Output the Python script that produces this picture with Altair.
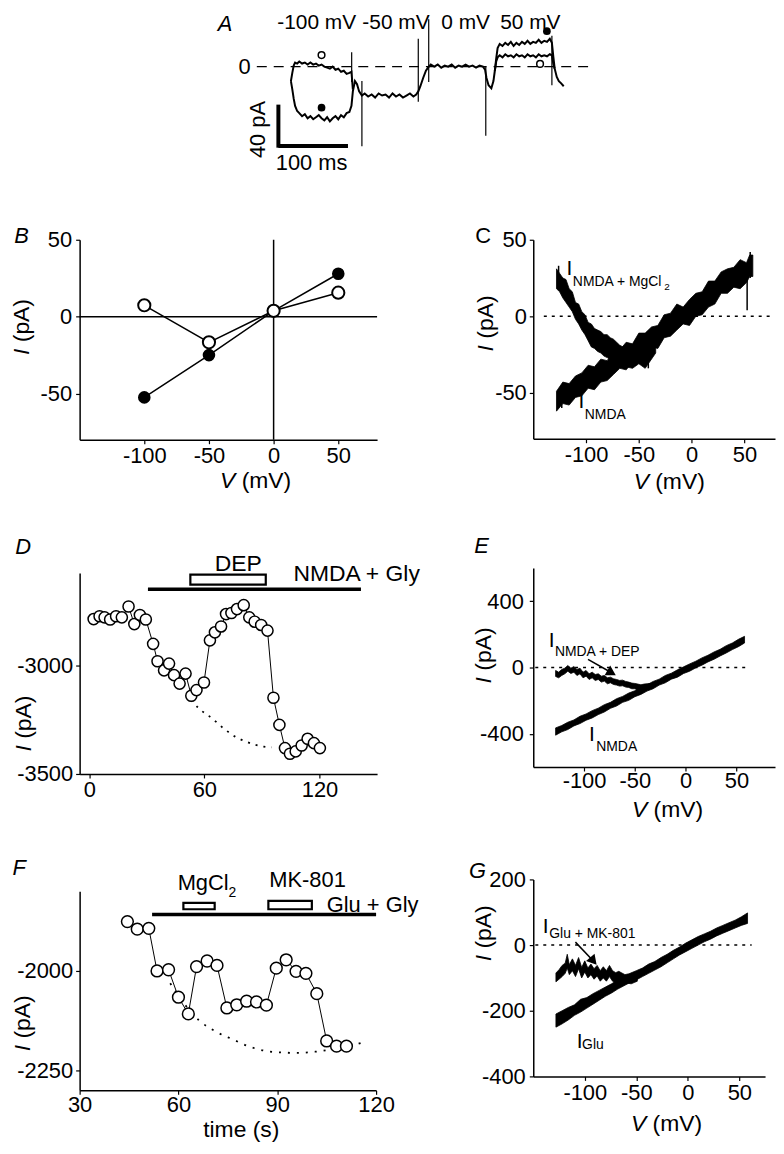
import altair as alt
import pandas as pd

FONT = "Liberation Sans"

# ---------------- DATA ----------------
# Panel A: current traces (time ms, current pA)
a_ctrl_t = [66, 68, 70, 72, 75, 78, 82, 86, 90, 94, 98, 102, 106, 110, 114, 118, 122, 126, 130, 134, 138, 142, 146, 150, 153,
            155, 158, 161, 164, 168, 172, 177, 182, 187, 192, 197, 202, 207, 212, 217, 222, 227, 232, 237, 242, 246, 249,
            252, 256, 260, 263, 267, 272, 277, 282, 287, 292, 297, 302, 307, 312, 317, 322, 327, 332, 337, 342, 345,
            347, 350, 354, 357, 359, 361, 363, 366, 370, 374, 378, 382, 386, 390, 394, 398, 402, 406, 410, 414, 418,
            422, 426, 430, 434, 438, 441, 443, 445, 448, 451, 454, 458]
a_ctrl_i = [-14, -22, -31, -38, -43, -45, -48, -46, -50, -48, -51, -49, -47, -50, -52, -49, -53, -50, -48, -51, -47, -49, -45, -44, -38,
            -24, -14, -17, -24, -28, -26, -29, -27, -30, -26, -28, -27, -30, -26, -29, -27, -30, -28, -26, -29, -27, -24,
            -19, -11, -4, -1, 2, 0, 2, -1, 1, 0, 2, -1, 1, 0, 2, 0, 1, -1, 1, 0, -3,
            -11, -18, -21, -14, -4, 8, 18, 22, 20, 23, 21, 24, 20, 23, 21, 24, 22, 25, 22, 24, 23,
            26, 23, 25, 24, 27, 23, 10, -2, -10, -14, -16, -19]
a_mg_t1 = [66, 68, 70, 72, 75, 78, 82, 86, 90, 94, 98, 102, 106, 110, 114, 118, 122, 126, 130, 134, 138, 142, 146, 150, 153, 155]
a_mg_i1 = [-14, -6, 1, 4, 3, 5, 3, 4, 2, 4, 2, 3, 1, 2, 0, -1, -2, 0, -3, -2, -5, -4, -7, -6, -5, -22]
a_mg_t2 = [359, 361, 363, 366, 370, 374, 378, 382, 386, 390, 394, 398, 402, 406, 410, 414, 418, 422, 426, 430, 434, 438, 441, 443, 445]
a_mg_i2 = [-4, 5, 9, 11, 9, 12, 10, 11, 9, 12, 10, 11, 9, 12, 10, 11, 9, 12, 10, 11, 10, 12, 11, 3, -2]
a_spike_t = [153.3, 168, 249, 264, 346, 441]
a_spike_lo = [-15, -77, -34, -15, -67, -18]
a_spike_hi = [14, -14, 27, 46, 0, 30]
a_mark_t = [110, 110, 433.8, 424]
a_mark_i = [11.2, -39.8, 34.3, 2.6]
a_mark_fill = ["open", "filled", "filled", "open"]
a_steps = ["-100 mV", "-50 mV", "0 mV", "50 mV"]
a_steps_t = [103, 217, 317, 410]

# Panel B: I-V points
b_v = [-100, -50, 0, 50]
b_ctrl = [-52.5, -25, 3.8, 27.9]
b_mg = [7.4, -16.7, 3.8, 15.6]

# Panel C: ramp I-V bands (V, lower edge, upper edge)
c_n_v = [-128, -122, -116, -110, -104, -98, -92, -86, -80, -74, -68, -62, -56, -50, -44, -38, -32, -26, -20, -14, -8, -2,
         4, 10, 16, 22, 28, 34, 40, 46, 52, 55, 58]
c_n_hi = [-49, -43, -44, -39, -37, -32, -33, -28, -29, -23, -22, -17, -18, -11, -11, -7, -6, 1, 2, 8, 6, 11,
          15, 16, 23, 23, 29, 31, 32, 37, 35, 40, 40]
c_n_lo = [-62, -57, -58, -53, -52, -47, -48, -43, -42, -38, -34, -35, -30, -29, -25, -20, -21, -14, -13, -9, -5, -6,
          0, 1, 6, 8, 15, 15, 19, 18, 22, 26, 26]
c_m_v = [-128, -125, -122, -119, -116, -113, -110, -107, -104, -101, -98, -95, -92, -89, -86, -83, -80, -77, -74, -71,
         -68, -65, -62, -56, -50, -44, -40, -34]
c_m_hi = [31, 28, 25, 24, 18, 16, 9, 8, 3, 1, -4, -5, -8, -9, -10, -12, -12, -14, -15, -17, -19, -20, -21, -20, -18, -17, -16, -12]
c_m_lo = [18, 16, 12, 9, 6, 3, -2, -5, -9, -12, -16, -20, -21, -23, -24, -26, -27, -28, -29, -31, -32, -33, -33, -34, -31, -34, -30, -24]
c_spike_v = [52.6, -126, -41, -123, 55.5]
c_spike_lo = [4, 22, -34, -60, 25]
c_spike_hi = [30, 33, -22, -50, 42]

# Panel D: time course with DEP
d_t = [2.3, 5.4, 8, 10.9, 14, 17, 20.5, 23.5, 26.4, 29.5, 33.3, 35.6, 39, 41.6, 44.2, 47.1, 50.2, 53.2, 55.9, 59.8,
       62.9, 65.5, 68.7, 71.3, 74.1, 77, 80.5, 83.4, 86.2, 89.6, 92.9, 96, 99.1, 102, 104.6, 107.6, 110.7, 113.8, 117.1, 120.2]
d_i = [-2787, -2774, -2779, -2789, -2774, -2779, -2729, -2810, -2768, -2789, -2901, -2981, -3023, -2992, -3045, -3084,
       -3038, -3140, -3114, -3079, -2885, -2848, -2821, -2764, -2759, -2741, -2723, -2779, -2799, -2814, -2840, -3149,
       -3274, -3381, -3407, -3396, -3369, -3338, -3358, -3381]
d_fit_t = [53, 58, 64, 70, 76, 82, 86.5, 91, 95]
d_fit_i = [-3160, -3205, -3244, -3290, -3328, -3352, -3366, -3374, -3378]

# Panel E
e_n_v = [-128, -122, -116, -110, -104, -98, -92, -86, -80, -74, -68, -62, -56, -50, -44, -38, -32, -26, -20, -14, -8, -2,
         4, 10, 16, 22, 28, 34, 40, 46, 52, 58]
e_n_hi = [-364, -350, -330, -316, -294, -280, -260, -245, -224, -210, -188, -174, -154, -140, -118, -104, -84, -70, -48, -34,
          -14, 4, 22, 38, 58, 74, 94, 110, 132, 148, 170, 188]
e_n_lo = [-408, -388, -374, -352, -338, -318, -304, -284, -268, -246, -232, -210, -198, -176, -162, -142, -128, -106, -92, -70,
          -58, -36, -22, -2, 14, 34, 50, 70, 88, 108, 126, 148]
e_d_v = [-128, -125, -122, -119, -116, -113, -110, -107, -104, -101, -98, -95, -92, -89, -86, -83, -80, -77, -74, -71,
         -68, -65, -62, -59, -56, -53, -50, -47, -44, -41, -38, -35]
e_d_hi = [-18, -28, -12, -4, 12, -4, 6, -12, -4, -28, -18, -38, -28, -42, -38, -52, -48, -62, -58, -68, -72, -78, -76, -84,
          -88, -94, -96, -100, -104, -100, -98, -96]
e_d_lo = [-54, -62, -48, -38, -22, -36, -28, -48, -38, -62, -52, -72, -62, -78, -72, -88, -82, -98, -92, -102, -106, -112,
          -110, -118, -120, -128, -128, -136, -138, -136, -132, -128]

# Panel F
f_t = [44.5, 47.5, 51, 53.5, 57, 60, 63, 65.5, 68.7, 71.7, 74.7, 77.7, 80.7, 83.7, 86.7, 89.7, 92.7, 95.7, 98.7, 102, 105, 108, 111]
f_i = [-1876, -1895, -1893, -2000, -1997, -2066, -2108, -1989, -1975, -1986, -2093, -2085, -2076, -2078, -2086, -1993,
       -1972, -2001, -2006, -2057, -2176, -2189, -2189]
f_fit_t = [57.5, 62, 66.5, 71.5, 76.5, 81.5, 86.5, 91.5, 96.5, 101.5, 106.5, 111.5, 116.5]
f_fit_i = [-2031, -2085, -2126, -2153, -2172, -2190, -2201, -2205, -2206, -2203, -2197, -2190, -2178]

# Panel G
g_g_v = [-128, -122, -116, -110, -104, -98, -92, -86, -80, -74, -68, -62, -56, -50, -44, -38, -32, -26, -20, -14, -8, -2,
         4, 10, 16, 22, 28, 34, 40, 46, 52, 58]
g_g_hi = [-210, -200, -190, -182, -165, -160, -148, -138, -128, -118, -106, -96, -86, -78, -70, -58, -50, -38, -28, -16,
          -6, 6, 16, 26, 34, 42, 52, 60, 68, 76, 86, 98]
g_g_lo = [-250, -240, -228, -214, -204, -192, -180, -168, -156, -146, -134, -124, -114, -106, -96, -86, -76, -66, -54, -42,
          -30, -20, -10, 0, 10, 18, 28, 36, 44, 52, 60, 66]
g_m_v = [-128, -125, -122, -119, -117, -115, -112, -109, -106, -103, -100, -97, -94, -91, -88, -85, -82, -79, -76, -73,
         -70, -67, -64, -61, -58, -55, -52, -49]
g_m_hi = [-85, -75, -62, -55, -28, -60, -42, -62, -38, -68, -48, -70, -58, -72, -62, -78, -66, -78, -62, -78, -84, -80,
          -85, -90, -88, -90, -86, -82]
g_m_lo = [-112, -104, -96, -86, -70, -90, -78, -96, -72, -100, -82, -100, -90, -104, -94, -110, -100, -110, -96, -110,
          -114, -110, -114, -118, -116, -118, -114, -110]

ONE = pd.DataFrame({"k": [0]})


# ---------------- HELPERS ----------------
def axes_for(xdom, ydom, xt, yt, xpad, ypad, show=True):
    if show:
        xa = alt.Axis(values=xt, title=None, labelPadding=xpad, labelExpr="'' + datum.value")
        ya = alt.Axis(values=yt, title=None, labelPadding=ypad, labelExpr="'' + datum.value")
    else:
        xa = None
        ya = None

    def X(f):
        return alt.X(f, type="quantitative", scale=alt.Scale(domain=xdom, nice=False, zero=False), axis=xa)

    def Y(f):
        return alt.Y(f, type="quantitative", scale=alt.Scale(domain=ydom, nice=False, zero=False), axis=ya)
    return X, Y


def dtext(X, Y, x, y, text, size=22, italic=False, align="center", angle=0):
    df = pd.DataFrame({"x": [x], "y": [y], "t": [text]})
    kw = dict(font=FONT, fontSize=size, align=align, baseline="middle", color="black")
    if italic:
        kw["fontStyle"] = "italic"
    if angle:
        kw["angle"] = angle
    return alt.Chart(df).mark_text(**kw).encode(x=X("x"), y=Y("y"), text="t:N")


def ptext(px, py, text, size=23, italic=False, align="center", angle=0, dx=0):
    kw = dict(font=FONT, fontSize=size, align=align, baseline="middle", color="black")
    if italic:
        kw["fontStyle"] = "italic"
    if angle:
        kw["angle"] = angle
    if dx:
        kw["dx"] = dx
    return alt.Chart(ONE).mark_text(**kw).encode(x=alt.value(px), y=alt.value(py), text=alt.value(text))


def vtitle(px, py):
    return [ptext(px, py, "V", italic=True, align="left", dx=-35.8),
            ptext(px, py, "(mV)", align="left", dx=-14.1)]


def ititle(px, py):
    return [ptext(px, py, "I", italic=True, align="left", angle=270, dx=-28),
            ptext(px, py, "(pA)", align="left", angle=270, dx=-15.2)]


def anchor(x0, y0, x1, y1):
    return alt.Chart(ONE).mark_rule(opacity=0, color="white").encode(
        x=alt.value(x0), y=alt.value(y0), x2=alt.value(x1), y2=alt.value(y1))


def band(X, Y, v, lo, hi):
    df = pd.DataFrame({"v": v, "lo": lo, "hi": hi})
    return alt.Chart(df).mark_area(color="black", stroke="black", strokeWidth=0.8).encode(
        x=X("v"), y=Y("lo"), y2=alt.Y2("hi"))


def hrule(X, Y, x0, x1, y, dash=None, width=1.5):
    df = pd.DataFrame({"x0": [x0], "x1": [x1], "y": [y]})
    kw = dict(color="black", strokeWidth=width)
    if dash:
        kw["strokeDash"] = dash
    return alt.Chart(df).mark_rule(**kw).encode(x=X("x0"), x2=alt.X2("x1"), y=Y("y"))


def arrow(X, Y, x0, y0, x1, y1, ang):
    df = pd.DataFrame({"x0": [x0], "y0": [y0], "x1": [x1], "y1": [y1]})
    line = alt.Chart(df).mark_rule(color="black", strokeWidth=1.5).encode(
        x=X("x0"), y=Y("y0"), x2=alt.X2("x1"), y2=alt.Y2("y1"))
    head = alt.Chart(df).mark_point(shape="triangle-right", filled=True, fill="black", stroke="black",
                                    size=60, angle=ang, opacity=1).encode(x=X("x1"), y=Y("y1"))
    return [line, head]


LEFT_X0 = -71       # left column: shared left extent of each cell
LEFT_X1 = 358.7     # left column: right extent of each cell
RIGHT_X0 = -95      # right column

# ---------------- PANEL A ----------------
XA, YA = axes_for([-237.6, 510], [-80, 52], None, None, 0, 0, show=False)
a_ctrl = pd.DataFrame({"t": a_ctrl_t, "i": a_ctrl_i})
a_mg = pd.DataFrame({"t": a_mg_t1 + a_mg_t2, "i": a_mg_i1 + a_mg_i2,
                     "seg": ["a"] * len(a_mg_t1) + ["b"] * len(a_mg_t2)})
a_sp = pd.DataFrame({"t": a_spike_t, "lo": a_spike_lo, "hi": a_spike_hi})
a_mk = pd.DataFrame({"t": a_mark_t, "i": a_mark_i, "f": a_mark_fill})
a_lab = pd.DataFrame({"t": a_steps_t, "i": [41.9] * 4, "s": a_steps})

A_layers = [
    anchor(0, 0, 0, 174),
    hrule(XA, YA, 17, 493, 0, dash=[10, 7], width=1.5),
    alt.Chart(a_ctrl).mark_line(color="black", strokeWidth=2).encode(x=XA("t"), y=YA("i")),
    alt.Chart(a_mg).mark_line(color="black", strokeWidth=2).encode(x=XA("t"), y=YA("i"), detail="seg:N"),
    alt.Chart(a_sp).mark_rule(color="black", strokeWidth=1.2).encode(x=XA("t"), y=YA("lo"), y2=alt.Y2("hi")),
    alt.Chart(a_mk[a_mk.f == "filled"]).mark_point(shape="circle", filled=True, fill="black", size=60, opacity=1).encode(
        x=XA("t"), y=YA("i")),
    alt.Chart(a_mk[a_mk.f == "open"]).mark_point(shape="circle", filled=True, fill="white", stroke="black",
                                                 strokeWidth=1.5, size=45, opacity=1).encode(x=XA("t"), y=YA("i")),
    alt.Chart(a_lab).mark_text(font=FONT, fontSize=21, baseline="middle", color="black").encode(
        x=XA("t"), y=YA("i"), text="s:N"),
    hrule(XA, YA, 48, 148, -76.9, width=4),
    alt.Chart(pd.DataFrame({"t": [48], "a": [-36.8], "b": [-78.5]})).mark_rule(color="black", strokeWidth=4).encode(
        x=XA("t"), y=YA("a"), y2=alt.Y2("b")),
    dtext(XA, YA, -0.7, 0, "0", size=22),
    dtext(XA, YA, -28.6, 41.4, "A", size=22, italic=True),
    dtext(XA, YA, 18.6, -60.9, "40 pA", size=22, angle=270),
    dtext(XA, YA, 95.7, -93.6, "100 ms", size=22),
]
panelA = alt.layer(*A_layers).properties(width=523, height=137)

# ---------------- PANEL B ----------------
XB, YB = axes_for([-150, 80], [-80, 50], [-100, -50, 0, 50], [-50, 0, 50], 2, 4)
b_df = pd.DataFrame({"v": b_v, "c": b_ctrl, "m": b_mg})
B_layers = [
    anchor(LEFT_X0, -51.7, LEFT_X1, 268.3),
    alt.Chart(pd.DataFrame({"x": [0], "a": [-80], "b": [50]})).mark_rule(color="black", strokeWidth=1.5).encode(
        x=XB("x"), y=YB("a"), y2=alt.Y2("b")),
    hrule(XB, YB, -150, 80, 0),
    alt.Chart(b_df).mark_line(color="black", strokeWidth=1.5).encode(x=XB("v"), y=YB("c")),
    alt.Chart(b_df).mark_line(color="black", strokeWidth=1.5).encode(x=XB("v"), y=YB("m")),
    alt.Chart(b_df).mark_point(shape="circle", filled=True, fill="black", size=160, opacity=1).encode(
        x=XB("v"), y=YB("c")),
    alt.Chart(b_df).mark_point(shape="circle", filled=True, fill="white", stroke="black", strokeWidth=2,
                               size=150, opacity=1).encode(x=XB("v"), y=YB("m")),
    ptext(-58.5, -3.7, "B", size=22, italic=True),
] + ititle(-57.5, 87.8) + vtitle(177, 242.3)
panelB = alt.layer(*B_layers).properties(width=299, height=201)

# ---------------- PANEL C ----------------
XC, YC = axes_for([-150, 79], [-80, 50], [-100, -50, 0, 50], [-50, 0, 50], 2, 3)
c_sp = pd.DataFrame({"v": c_spike_v, "lo": c_spike_lo, "hi": c_spike_hi})
C_layers = [
    anchor(RIGHT_X0, -48.3, 0, 268.3),
    hrule(XC, YC, -140, 78, 0, dash=[3, 5], width=1.5),
    band(XC, YC, c_n_v, c_n_lo, c_n_hi),
    band(XC, YC, c_m_v, c_m_lo, c_m_hi),
    alt.Chart(c_sp).mark_rule(color="black", strokeWidth=1.5).encode(x=XC("v"), y=YC("lo"), y2=alt.Y2("hi")),
    dtext(XC, YC, -115.8, 30.6, "I", size=21),
    dtext(XC, YC, -112.5, 22.1, "NMDA + MgCl", size=14, align="left"),
    dtext(XC, YC, -25.8, 18.9, "2", size=10, align="left"),
    dtext(XC, YC, -104.5, -56.1, "I", size=21),
    dtext(XC, YC, -101.2, -64.2, "NMDA", size=14, align="left"),
    ptext(-50.3, -3.3, "C", size=22),
] + ititle(-47.3, 84.2) + vtitle(136.7, 243.7)
panelC = alt.layer(*C_layers).properties(width=243, height=200)

# ---------------- PANEL D ----------------
XD, YD = axes_for([-5, 150], [-3500, -2575], [0, 60, 120], [-3500, -3000], 2, 3)
d_df = pd.DataFrame({"t": d_t, "i": d_i})
d_fit = pd.DataFrame({"t": d_fit_t, "i": d_fit_i})
D_layers = [
    anchor(LEFT_X0, -65, LEFT_X1, 255),
    alt.Chart(d_fit).mark_line(color="black", strokeWidth=1.8, strokeDash=[2, 6], interpolate="monotone").encode(
        x=XD("t"), y=YD("i")),
    alt.Chart(d_df).mark_line(color="black", strokeWidth=1).encode(x=XD("t"), y=YD("i")),
    alt.Chart(d_df).mark_point(shape="circle", filled=True, fill="white", stroke="black", strokeWidth=1.5,
                               size=125, opacity=1).encode(x=XD("t"), y=YD("i")),
    hrule(XD, YD, 30.6, 141.6, -2650, width=3.5),
    alt.Chart(pd.DataFrame({"a": [52.7], "b": [92], "c": [-2582], "d": [-2628]})).mark_rect(
        fill="white", stroke="black", strokeWidth=2.2).encode(x=XD("a"), x2=alt.X2("b"), y=YD("c"), y2=alt.Y2("d")),
    dtext(XD, YD, 77.7, -2535, "DEP", size=23),
    dtext(XD, YD, 106.4, -2581, "NMDA + Gly", size=23, align="left"),
    ptext(-56.7, -26, "D", size=22, italic=True),
] + ititle(-55.7, 151.5)
panelD = alt.layer(*D_layers).properties(width=299, height=202)

# ---------------- PANEL E ----------------
XE, YE = axes_for([-150, 88], [-600, 600], [-100, -50, 0, 50], [-400, 0, 400], 0, 6)
E_layers = [
    anchor(RIGHT_X0, -60, 0, 260),
    hrule(XE, YE, -148, 62, 0, dash=[3, 5], width=1.5),
    band(XE, YE, e_n_v, e_n_lo, e_n_hi),
    band(XE, YE, e_d_v, e_d_lo, e_d_hi),
] + arrow(XE, YE, -96.1, 49.7, -73.3, -30, 30) + [
    dtext(XE, YE, -132, 159, "I", size=21),
    dtext(XE, YE, -128.7, 96, "NMDA + DEP", size=14, align="left"),
    dtext(XE, YE, -92.2, -405, "I", size=21),
    dtext(XE, YE, -88, -480, "NMDA", size=14, align="left"),
    ptext(-52, -22, "E", size=22, italic=True),
] + ititle(-49, 88) + vtitle(135, 243)
panelE = alt.layer(*E_layers).properties(width=243, height=200)

# ---------------- PANEL F ----------------
XF, YF = axes_for([30, 120], [-2300, -1800], [30, 60, 90, 120], [-2250, -2000], 0, 3)
f_df = pd.DataFrame({"t": f_t, "i": f_i})
f_fit = pd.DataFrame({"t": f_fit_t, "i": f_fit_i})
f_box = pd.DataFrame({"a": [61.5, 87.3], "b": [71, 100.5], "c": [-1829, -1824], "d": [-1845, -1845]})
F_layers = [
    anchor(LEFT_X0, -62.7, LEFT_X1, 245),
    alt.Chart(f_fit).mark_line(color="black", strokeWidth=1.8, strokeDash=[2, 7], interpolate="monotone").encode(
        x=XF("t"), y=YF("i")),
    alt.Chart(f_df).mark_line(color="black", strokeWidth=1).encode(x=XF("t"), y=YF("i")),
    alt.Chart(f_df).mark_point(shape="circle", filled=True, fill="white", stroke="black", strokeWidth=1.5,
                               size=140, opacity=1).encode(x=XF("t"), y=YF("i")),
    hrule(XF, YF, 52, 120, -1858, width=3.5),
    alt.Chart(f_box).mark_rect(fill="white", stroke="black", strokeWidth=2.2).encode(
        x=XF("a"), x2=alt.X2("b"), y=YF("c"), y2=alt.Y2("d")),
    dtext(XF, YF, 67.5, -1778, "MgCl", size=22),
    dtext(XF, YF, 75.2, -1804, "2", size=14, align="left"),
    dtext(XF, YF, 99.2, -1772.5, "MK-801", size=22),
    dtext(XF, YF, 105, -1835, "Glu + Gly", size=22, align="left"),
    ptext(-60.8, -23.7, "F", size=22, italic=True),
    ptext(162.5, 240, "time (s)", size=23),
] + ititle(-57.3, 132.8)
panelF = alt.layer(*F_layers).properties(width=298, height=200)

# ---------------- PANEL G ----------------
XG, YG = axes_for([-150, 75], [-400, 200], [-100, -50, 0, 50], [-400, -200, 0, 200], 2, 4)
G_layers = [
    anchor(RIGHT_X0, -50.7, 0, 248),
    hrule(XG, YG, -148, 62, 0, dash=[3, 5], width=1.5),
    band(XG, YG, g_g_v, g_g_lo, g_g_hi),
    band(XG, YG, g_m_v, g_m_lo, g_m_hi),
] + arrow(XG, YG, -109.1, 9, -91.9, -47.6, 49.5) + [
    dtext(XG, YG, -137.9, 55.5, "I", size=21),
    dtext(XG, YG, -134.5, 34.2, "Glu + MK-801", size=14, align="left"),
    dtext(XG, YG, -105, -294.5, "I", size=21),
    dtext(XG, YG, -102.6, -304, "Glu", size=14, align="left"),
    ptext(-56, -8.7, "G", size=22, italic=True),
] + ititle(-49.3, 54.3) + vtitle(134, 246)
panelG = alt.layer(*G_layers).properties(width=233, height=198)

# ---------------- LAYOUT ----------------
left = alt.vconcat(panelB, panelD, panelF, spacing=0)
right = alt.vconcat(panelC, panelE, panelG, spacing=0)
row = alt.hconcat(left, right, spacing=0)
chart = alt.vconcat(panelA, row, spacing=0).properties(
    padding=0, background="white"
).configure_view(
    stroke="transparent"
).configure_axis(
    domainColor="black", domainWidth=1.5, tickColor="black", tickWidth=1.2, tickSize=4,
    labelFont=FONT, labelFontSize=22, labelColor="black", grid=False, labelFlush=False,
    labelOverlap=False
)

chart.save("out.html", embed_options={"renderer": "svg", "actions": False})
